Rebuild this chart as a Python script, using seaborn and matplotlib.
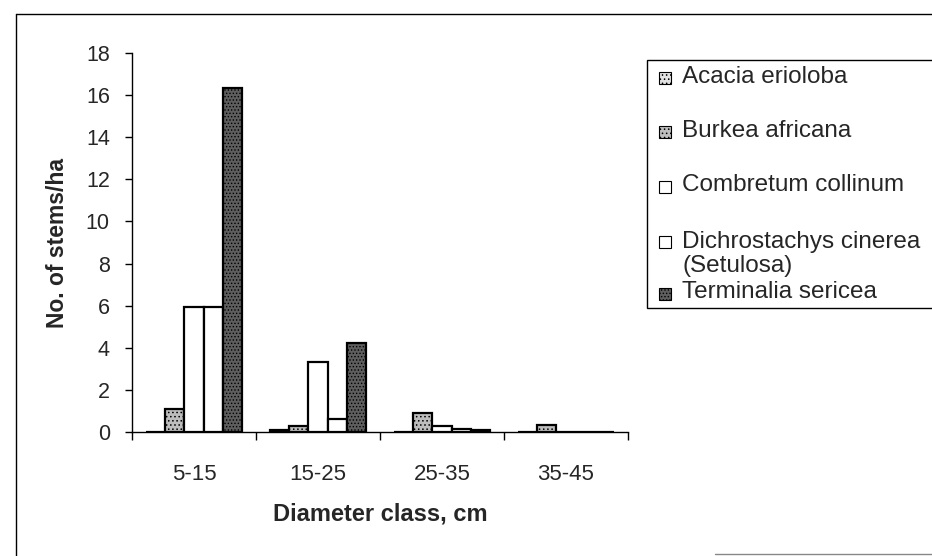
import matplotlib
matplotlib.use("Agg")
import matplotlib.pyplot as plt
import seaborn as sns
import pandas as pd
from matplotlib.patches import Rectangle
from matplotlib.lines import Line2D

# Diameter classes (cm) and stem densities (stems/ha) per species
classes = ["5-15", "15-25", "25-35", "35-45"]
species = ["Acacia erioloba", "Burkea africana", "Combretum collinum",
           "Dichrostachys cinerea\n(Setulosa)", "Terminalia sericea"]
acacia = [0.0, 0.1, 0.0, 0.0]
burkea = [1.1, 0.28, 0.89, 0.33]
combretum = [5.95, 3.33, 0.3, 0.0]
dichrostachys = [5.95, 0.62, 0.13, 0.0]
terminalia = [16.35, 4.23, 0.08, 0.0]

series = [acacia, burkea, combretum, dichrostachys, terminalia]
rows = []
for sp, vals in zip(species, series):
    for c, v in zip(classes, vals):
        rows.append({"Diameter class": c, "Species": sp, "Stems": v})
df = pd.DataFrame(rows)

sns.set_style("ticks")
plt.rcParams["font.family"] = ["Liberation Sans", "DejaVu Sans"]
plt.rcParams["hatch.linewidth"] = 0.6

faces = ["#e2e2e2", "#bdbdbd", "#ffffff", "#ffffff", "#5e5e5e"]
hatches = ["....", "....", "", "", "....."]

fig = plt.figure(figsize=(9.32, 5.56), dpi=100)
ax = fig.add_axes([132 / 932, 1 - 432 / 556, (628 - 132) / 932, (432 - 53) / 556])

sns.barplot(data=df, x="Diameter class", y="Stems", hue="Species",
            hue_order=species, order=classes, palette=faces, width=0.77,
            edgecolor="black", linewidth=1.6, saturation=1, legend=False, ax=ax)

for cont, h, fc in zip(ax.containers, hatches, faces):
    for bar in cont:
        bar.set_hatch(h)
        bar.set_facecolor(fc)

ax.set_xlim(-0.5, 3.5)
ax.set_ylim(0, 18)
ax.set_yticks(range(0, 19, 2))
ax.set_xticks([i - 0.5 for i in range(5)], minor=True)
ax.tick_params(axis="x", which="major", length=0, pad=23, labelsize=16)
ax.tick_params(axis="x", which="minor", length=6, width=1, direction="out", color="black")
ax.tick_params(axis="y", length=5, width=1, pad=11, labelsize=15.5, color="black")
for s in ["top", "right"]:
    ax.spines[s].set_visible(False)
for s in ["left", "bottom"]:
    ax.spines[s].set_color("black")
    ax.spines[s].set_linewidth(1.0)

ax.set_xlabel("Diameter class, cm", fontsize=17, fontweight="bold", labelpad=13)
ax.set_ylabel("No. of stems/ha", fontsize=16.5, fontweight="bold", labelpad=12)

# Legend drawn as a boxed key in figure pixels
W, H = 932, 556
def fx(px):
    return px / W
def fy(py):
    return 1 - py / H

fig.patches.append(Rectangle((fx(647), fy(308)), fx(940) - fx(647), fy(60) - fy(308),
                             transform=fig.transFigure, facecolor="white",
                             edgecolor="black", linewidth=1.0, zorder=0))
marker_y = [78, 132, 187, 242, 294]
text_y = [77, 131, 185, 254, 292]
for sp, fc, h, my, ty in zip(species, faces, hatches, marker_y, text_y):
    fig.patches.append(Rectangle((fx(659), fy(my + 6)), fx(12), 12 / H,
                                 transform=fig.transFigure, facecolor=fc,
                                 edgecolor="black", linewidth=0.8, hatch=h))
    fig.text(fx(682), fy(ty), sp, fontsize=17.5, va="center", ha="left",
             linespacing=1.1)

# Outer frame of the chart area
fig.add_artist(Line2D([fx(16), fx(16)], [fy(14), fy(556)], color="black",
                      linewidth=1.0, transform=fig.transFigure))
fig.add_artist(Line2D([fx(16), 1], [fy(14), fy(14)], color="black",
                      linewidth=1.0, transform=fig.transFigure))
fig.add_artist(Line2D([fx(715), 1], [fy(554), fy(554)], color="#888888",
                      linewidth=1.0, transform=fig.transFigure))

fig.savefig("out.png", dpi=100)
